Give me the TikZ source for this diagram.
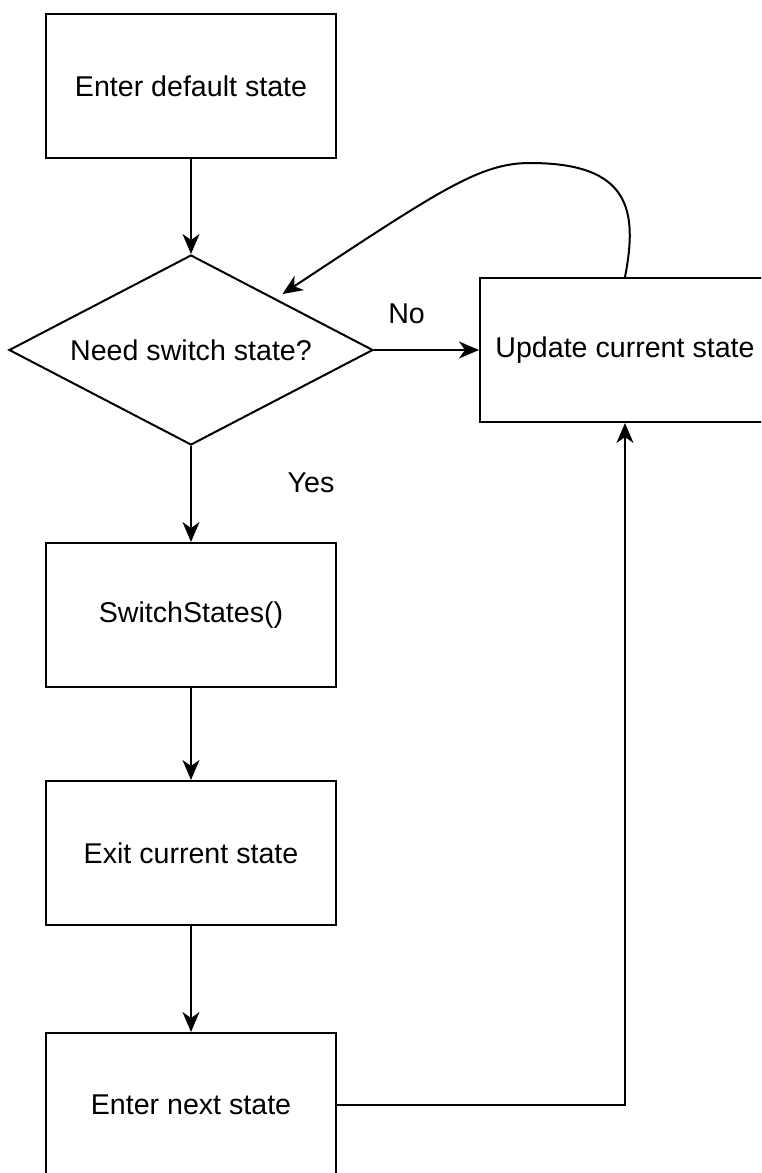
\documentclass[tikz,border=0pt]{standalone}
\usepackage{fontspec}
\setmainfont{Liberation Sans}
\usetikzlibrary{arrows.meta,shapes.geometric}

\begin{document}
\begin{tikzpicture}[x=0.5pt,y=-0.5pt,line width=1pt,
  >={Stealth[length=10pt,width=8.5pt,inset=3pt]},
  box/.style={draw,minimum width=145pt,minimum height=72pt,font=\fontsize{14.3}{17}\selectfont},
  choice/.style={draw,diamond,aspect=1.92,inner sep=0pt,minimum width=182pt,minimum height=95pt,font=\fontsize{14.3}{17}\selectfont},
  lbl/.style={font=\fontsize{14.3}{17}\selectfont}]
  \useasboundingbox (0,0) rectangle (761,1173);
  \clip (0,0) rectangle (761,1173);
  \node[box] (start) at (191,86) {Enter default state};
  \node[choice] (check) at (191,350) {Need switch state?};
  \node[box] (update) at (625,350) {Update current state};
  \node[box] (switch) at (191,615) {SwitchStates()};
  \node[box] (exit) at (191,853) {Exit current state};
  \node[box] (next) at (191,1105) {Enter next state};
  \draw[->] (start) -- (check);
  \draw[->] (check) -- node[lbl,pos=0.31,yshift=18pt] (no) {No} (update);
  \draw[->] (check) -- node[lbl,pos=0.38,xshift=60pt] (yes) {Yes} (switch);
  \draw[->] (switch) -- (exit);
  \draw[->] (exit) -- (next);
  \draw[->] (next) -| (update);
  % loop back to the decision
  \draw[->] (update.north) .. controls (638,210) and (630,163) .. (530,163)
    .. controls (480,163) and (440,190) .. ([shift={(0,-8)}]check.north east);
\end{tikzpicture}
\end{document}
